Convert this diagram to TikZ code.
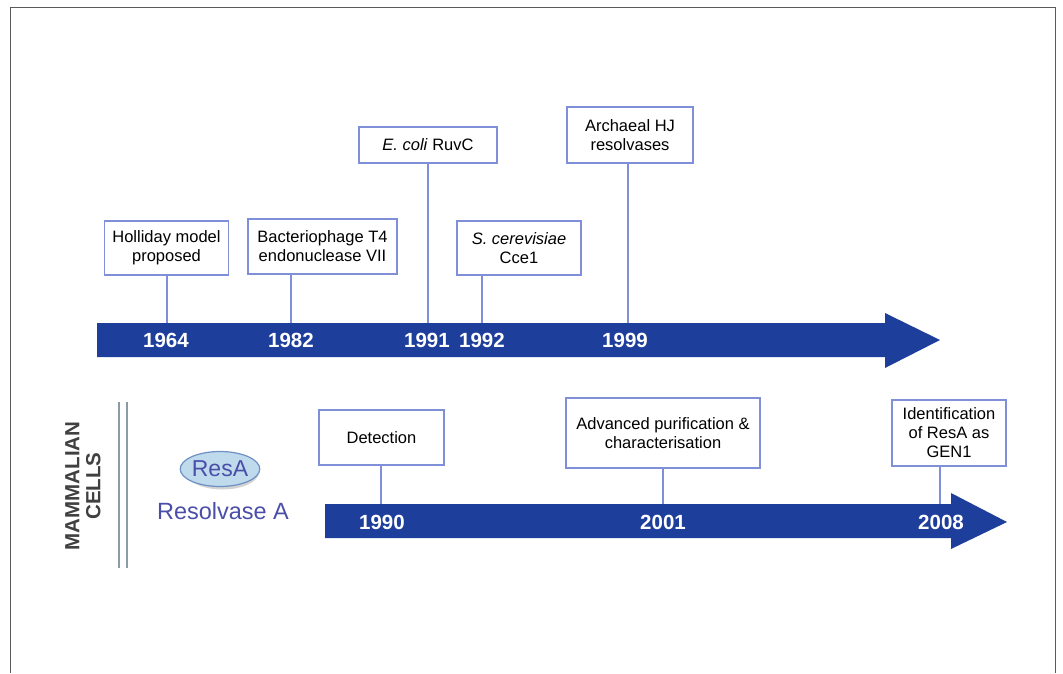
\documentclass[tikz,border=0pt]{standalone}
\usepackage{fontspec}
\setmainfont{Liberation Sans}
\usetikzlibrary{shapes.geometric}
\definecolor{arrowblue}{RGB}{30,62,156}
\definecolor{boxline}{RGB}{128,144,216}
\definecolor{framec}{RGB}{90,90,90}
\definecolor{dblc}{RGB}{140,156,166}
\definecolor{resfill}{RGB}{190,218,236}
\definecolor{resline}{RGB}{110,144,196}
\definecolor{restext}{RGB}{74,78,168}
\definecolor{mamc}{RGB}{64,64,64}
\tikzset{
  tbox/.style={draw=boxline, fill=white, line width=1.3pt, align=center,
    inner sep=0pt, font=\fontsize{16.5}{19}\selectfont},
  conn/.style={draw=boxline, line width=1.3pt},
  yearlab/.style={text=white, font=\bfseries\fontsize{20.5}{24}\selectfont, inner sep=0pt},
  tlarrow/.style={fill=arrowblue, draw=none}
}
\begin{document}
\begin{tikzpicture}[x=1pt,y=-1pt]
\useasboundingbox (0,0) rectangle (1063,673);
% frame
\draw[framec, line width=1.5pt] (10.5,673) -- (10.5,7.5) -- (1055.5,7.5) -- (1055.5,673);

% top timeline arrow
\fill[tlarrow] (97,323) -- (885,323) -- (885,313) -- (940,340) -- (885,368) -- (885,357) -- (97,357) -- cycle;
\coordinate (t1) at (97,323);

% top years
\node[yearlab] (y64) at (166,340) {1964};
\node[yearlab] (y82) at (291,340) {1982};
\node[yearlab] (y91) at (427,340) {1991};
\node[yearlab] (y92) at (482,340) {1992};
\node[yearlab] (y99) at (625,340) {1999};

% top boxes
\node[tbox, minimum width=124pt, minimum height=54pt] (hol) at (166.5,248) {Holliday model\\proposed};
\node[tbox, minimum width=149pt, minimum height=55pt] (bac) at (322.5,246.5) {Bacteriophage T4\\endonuclease VII};
\node[tbox, minimum width=138pt, minimum height=36pt] (ruv) at (428,145) {\textit{E. coli} RuvC};
\node[tbox, minimum width=124pt, minimum height=54pt] (cce) at (519,248) {\textit{S. cerevisiae}\\Cce1};
\node[tbox, minimum width=126pt, minimum height=56pt] (arc) at (630,135) {Archaeal HJ\\resolvases};

\draw[conn] (hol.south -| 167,0) -- (167,323);
\draw[conn] (bac.south -| 291,0) -- (291,323);
\draw[conn] (ruv.south) -- (ruv.south |- t1);
\draw[conn] (cce.south -| 482,0) -- (482,323);
\draw[conn] (arc.south -| 628,0) -- (628,323);

% mammalian section
\node[rotate=90, align=center, text=mamc, font=\bfseries\fontsize{20.5}{21}\selectfont, inner sep=0pt] (mam) at (83,486) {MAMMALIAN\\CELLS};
\draw[dblc, line width=2pt] (119,402) -- (119,568);
\draw[dblc, line width=2pt] (127,402) -- (127,568);

\fill[gray, opacity=0.35] (222.5,472) ellipse (36.5pt and 17.5pt);
\node[ellipse, draw=resline, fill=resfill, line width=1.2pt, minimum width=73pt, minimum height=35pt, inner sep=0pt, text=restext, font=\fontsize{23}{26}\selectfont] (resa) at (220,469) {ResA};
\node[text=restext, font=\fontsize{23.5}{26}\selectfont, inner sep=0pt] (resv) at (223,511) {Resolvase A};

% bottom timeline arrow
\fill[tlarrow] (325,504) -- (951,504) -- (951,493) -- (1007,522) -- (951,549) -- (951,538) -- (325,538) -- cycle;
\coordinate (t2) at (325,504);

\node[yearlab] (y90) at (382,522) {1990};
\node[yearlab] (y01) at (663,522) {2001};
\node[yearlab] (y08) at (941,522) {2008};

\node[tbox, minimum width=125pt, minimum height=55pt] (det) at (381.5,437.5) {Detection};
\node[tbox, minimum width=194pt, minimum height=70pt] (adv) at (663,433) {Advanced purification \&\\characterisation};
\node[tbox, minimum width=114pt, minimum height=66pt] (ide) at (949,433) {Identification\\of ResA as\\GEN1};

\draw[conn] (det.south -| 381,0) -- (381,504);
\draw[conn] (adv.south) -- (adv.south |- t2);
\draw[conn] (ide.south -| 940,0) -- (940,504);
\end{tikzpicture}
\end{document}
